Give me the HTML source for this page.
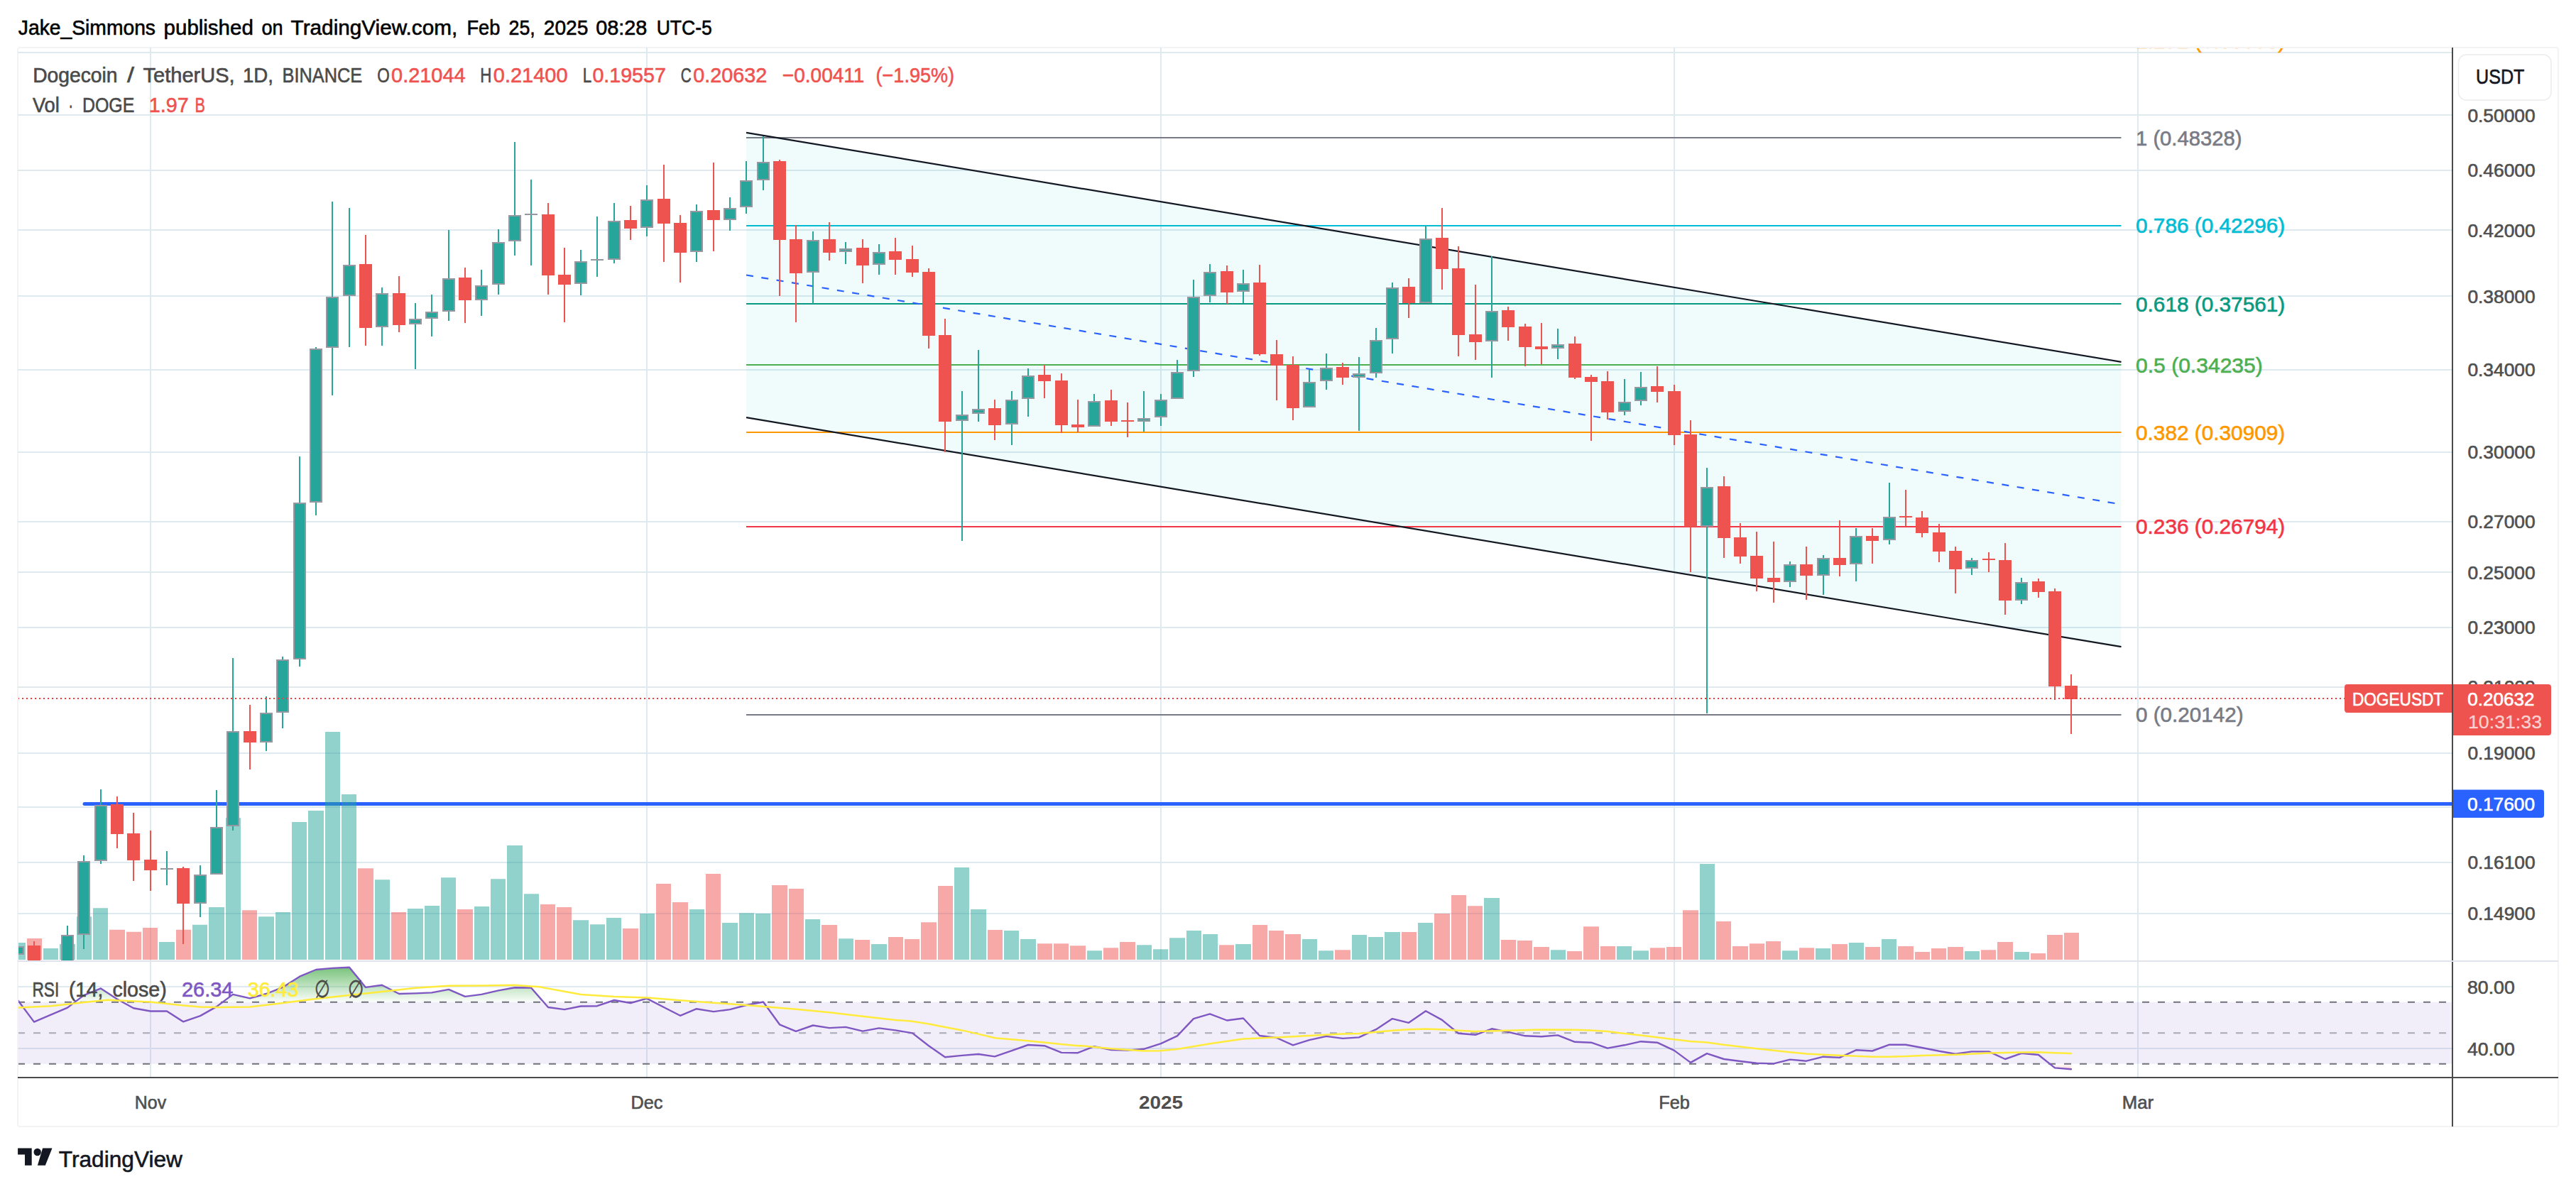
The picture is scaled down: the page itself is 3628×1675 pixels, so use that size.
<!DOCTYPE html>
<html><head><meta charset="utf-8"><title>DOGEUSDT chart</title>
<style>html,body{margin:0;padding:0;background:#fff}svg{display:block}text{font-family:"Liberation Sans", sans-serif;white-space:pre}</style>
</head><body>
<svg width="3628" height="1675" viewBox="0 0 3628 1675">
<rect x="0" y="0" width="3628" height="1675" fill="#fff"/>
<rect x="25" y="67" width="3578" height="1520" rx="3" fill="none" stroke="#f3f3f3" stroke-width="2"/>
<defs>
<clipPath id="main"><rect x="26" y="68" width="3428" height="1286"/></clipPath>
<clipPath id="rsi"><rect x="26" y="1354" width="3428" height="164"/></clipPath>
<clipPath id="rsitop"><rect x="26" y="1354" width="3428" height="57.75"/></clipPath>
<clipPath id="rsibot"><rect x="26" y="1498.75" width="3428" height="19.25"/></clipPath>
<linearGradient id="gg" gradientUnits="userSpaceOnUse" x1="0" y1="1358" x2="0" y2="1411.75"><stop offset="0" stop-color="#4caf50" stop-opacity="0.82"/><stop offset="1" stop-color="#4caf50" stop-opacity="0.02"/></linearGradient>
<linearGradient id="rg" gradientUnits="userSpaceOnUse" x1="0" y1="1498.75" x2="0" y2="1518"><stop offset="0" stop-color="#ff5252" stop-opacity="0.0"/><stop offset="1" stop-color="#ff5252" stop-opacity="0.6"/></linearGradient>
</defs>
<path d="M25 74H3454 M25 162H3454 M25 240H3454 M25 324H3454 M25 417H3454 M25 521H3454 M25 637H3454 M25 735H3454 M25 806H3454 M25 884H3454 M25 968H3454 M25 1061H3454 M25 1137H3454 M25 1215H3454 M25 1287H3454 M25 1390H3454 M25 1477H3454 M212 67V1518 M911 67V1518 M1635 67V1518 M2358 67V1518 M3011 67V1518" stroke="#dee9f0" stroke-width="2" fill="none"/>
<g clip-path="url(#main)">
<polygon points="1051,186.8 2987.5,509.8 2987.5,911.2 1051,588.2" fill="#00bcc8" fill-opacity="0.06"/>
<line x1="1051" y1="194.0" x2="2987.5" y2="194.0" stroke="#787b86" stroke-width="2"/>
<line x1="1051" y1="318.0" x2="2987.5" y2="318.0" stroke="#00bcd4" stroke-width="2"/>
<line x1="1051" y1="428.0" x2="2987.5" y2="428.0" stroke="#089981" stroke-width="2"/>
<line x1="1051" y1="514.0" x2="2987.5" y2="514.0" stroke="#4caf50" stroke-width="2"/>
<line x1="1051" y1="609.0" x2="2987.5" y2="609.0" stroke="#ff9800" stroke-width="2"/>
<line x1="1051" y1="742.0" x2="2987.5" y2="742.0" stroke="#f23645" stroke-width="2"/>
<line x1="1051" y1="1007.0" x2="2987.5" y2="1007.0" stroke="#787b86" stroke-width="2"/>
<line x1="1051" y1="387.5" x2="2987.5" y2="710.5" stroke="#2962ff" stroke-width="2.2" stroke-dasharray="10 11.6"/>
<line x1="1051" y1="186.8" x2="2987.5" y2="509.8" stroke="#131722" stroke-width="2.2"/>
<line x1="1051" y1="588.2" x2="2987.5" y2="911.2" stroke="#131722" stroke-width="2.2"/>
<line x1="119" y1="1132.5" x2="3454" y2="1132.5" stroke="#2962ff" stroke-width="5" stroke-linecap="round"/>
<path d="M14 1327.9H36V1352H14ZM61 1336.1H82V1352H61ZM84 1330.0H106V1352H84ZM108 1291.3H129V1352H108ZM131 1279.2H152V1352H131ZM224 1327.0H246V1352H224ZM271 1302.8H292V1352H271ZM294 1278.0H316V1352H294ZM318 1152.3H339V1352H318ZM364 1291.3H386V1352H364ZM388 1284.9H409V1352H388ZM411 1158.1H432V1352H411ZM434 1142.0H456V1352H434ZM458 1030.9H479V1352H458ZM481 1119.0H502V1352H481ZM528 1239.2H549V1352H528ZM574 1280.1H596V1352H574ZM598 1276.1H619V1352H598ZM621 1236.2H642V1352H621ZM668 1277.1H689V1352H668ZM691 1238.3H712V1352H691ZM714 1191.1H736V1352H714ZM738 1259.2H759V1352H738ZM807 1296.2H829V1352H807ZM831 1302.2H852V1352H831ZM854 1293.1H875V1352H854ZM901 1287.1H922V1352H901ZM971 1281.0H992V1352H971ZM1017 1300.1H1039V1352H1017ZM1041 1286.2H1062V1352H1041ZM1064 1287.1H1085V1352H1064ZM1134 1295.0H1155V1352H1134ZM1181 1322.2H1202V1352H1181ZM1227 1330.1H1249V1352H1227ZM1344 1222.0H1365V1352H1344ZM1367 1281.0H1389V1352H1367ZM1414 1311.0H1435V1352H1414ZM1437 1323.1H1459V1352H1437ZM1531 1339.2H1552V1352H1531ZM1601 1331.3H1622V1352H1601ZM1624 1337.3H1645V1352H1624ZM1647 1321.3H1669V1352H1647ZM1671 1311.0H1692V1352H1671ZM1694 1316.1H1715V1352H1694ZM1740 1330.1H1762V1352H1740ZM1834 1323.1H1855V1352H1834ZM1857 1339.2H1878V1352H1857ZM1904 1317.1H1925V1352H1904ZM1927 1320.1H1948V1352H1927ZM1950 1313.1H1972V1352H1950ZM1997 1300.1H2018V1352H1997ZM2090 1265.0H2112V1352H2090ZM2184 1338.2H2205V1352H2184ZM2277 1333.1H2298V1352H2277ZM2300 1339.2H2322V1352H2300ZM2394 1217.1H2415V1352H2394ZM2510 1339.2H2532V1352H2510ZM2557 1336.1H2578V1352H2557ZM2604 1328.0H2625V1352H2604ZM2650 1323.1H2671V1352H2650ZM2767 1340.1H2788V1352H2767ZM2837 1341.0H2858V1352H2837Z" fill="#26a69a" fill-opacity="0.5"/>
<path d="M38 1321.9H59V1352H38ZM154 1309.8H176V1352H154ZM178 1312.8H199V1352H178ZM201 1307.0H222V1352H201ZM248 1309.8H269V1352H248ZM341 1282.2H362V1352H341ZM504 1223.2H526V1352H504ZM551 1284.9H572V1352H551ZM644 1281.0H666V1352H644ZM761 1274.1H782V1352H761ZM784 1278.0H805V1352H784ZM877 1308.0H899V1352H877ZM924 1245.0H945V1352H924ZM947 1271.0H969V1352H947ZM994 1231.1H1015V1352H994ZM1087 1247.1H1109V1352H1087ZM1111 1252.0H1132V1352H1111ZM1157 1303.1H1179V1352H1157ZM1204 1324.0H1225V1352H1204ZM1251 1320.1H1272V1352H1251ZM1274 1323.1H1295V1352H1274ZM1297 1299.2H1319V1352H1297ZM1321 1248.0H1342V1352H1321ZM1391 1310.1H1412V1352H1391ZM1461 1329.2H1482V1352H1461ZM1484 1329.2H1505V1352H1484ZM1507 1332.2H1529V1352H1507ZM1554 1335.2H1575V1352H1554ZM1577 1327.0H1599V1352H1577ZM1717 1331.3H1738V1352H1717ZM1764 1303.1H1785V1352H1764ZM1787 1311.0H1808V1352H1787ZM1810 1316.1H1832V1352H1810ZM1880 1338.2H1902V1352H1880ZM1974 1313.1H1995V1352H1974ZM2020 1287.1H2042V1352H2020ZM2044 1261.0H2065V1352H2044ZM2067 1276.2H2088V1352H2067ZM2114 1324.0H2135V1352H2114ZM2137 1324.9H2158V1352H2137ZM2160 1334.0H2182V1352H2160ZM2207 1340.1H2228V1352H2207ZM2230 1305.2H2252V1352H2230ZM2254 1333.1H2275V1352H2254ZM2324 1335.2H2345V1352H2324ZM2347 1334.0H2368V1352H2347ZM2370 1282.2H2392V1352H2370ZM2417 1298.0H2438V1352H2417ZM2440 1333.1H2462V1352H2440ZM2464 1329.2H2485V1352H2464ZM2487 1326.1H2508V1352H2487ZM2534 1335.2H2555V1352H2534ZM2580 1330.1H2602V1352H2580ZM2627 1334.0H2648V1352H2627ZM2673 1333.1H2695V1352H2673ZM2697 1341.0H2718V1352H2697ZM2720 1336.1H2741V1352H2720ZM2743 1334.0H2765V1352H2743ZM2790 1338.2H2811V1352H2790ZM2813 1327.0H2835V1352H2813ZM2860 1343.1H2881V1352H2860ZM2883 1317.1H2905V1352H2883ZM2907 1314.0H2928V1352H2907Z" fill="#ef5350" fill-opacity="0.5"/>
<path d="M25 1319V1350M72 1380V1420M95 1304V1420M118 1205V1337M142 1112V1217M235 1199V1247M282 1219V1292M305 1113V1232M328 927V1170M375 981V1058M398 925V1026M422 643V939M445 489V726M468 284V557M492 293V489M538 405V487M585 427V520M608 415V474M632 324V452M678 380V445M702 323V415M725 200V360M748 253V374M818 352V416M841 305V390M865 286V371M911 261V333M981 288V369M1028 278V325M1051 227V301M1075 192V268M1145 326V428M1191 341V372M1238 344V387M1355 551V762M1378 493V594M1425 551V627M1448 519V587M1541 555V601M1611 551V608M1635 555V600M1658 507V562M1681 394V531M1704 372V426M1751 380V427M1844 521V574M1868 498V549M1914 503V607M1938 462V532M1961 398V498M2008 318V427M2101 361V532M2194 463V506M2288 534V585M2311 524V571M2404 659V1005M2521 791V827M2568 782V838M2614 744V819M2661 680V767M2777 786V810M2847 814V851" stroke="#26a69a" stroke-width="2" fill="none"/>
<path d="M48 1326V1420M165 1122V1195M188 1145V1241M212 1170V1255M258 1221V1330M352 993V1084M515 331V487M562 389V468M655 377V455M772 286V415M795 349V454M888 290V338M935 232V369M958 303V398M1005 229V354M1098 225V417M1121 317V454M1168 313V367M1215 337V399M1261 335V387M1285 346V390M1308 378V491M1331 449V637M1401 563V620M1471 514V561M1495 526V610M1518 563V609M1565 549V600M1588 567V616M1728 374V428M1774 373V501M1798 479V564M1821 502V592M1891 511V542M1984 392V448M2031 293V408M2054 347V502M2078 401V507M2124 432V480M2148 456V516M2171 455V513M2218 474V534M2241 528V621M2264 523V591M2334 516V567M2358 542V627M2381 592V806M2428 671V786M2451 737V794M2474 749V833M2498 763V849M2544 770V845M2591 733V812M2637 744V794M2684 690V742M2707 720V757M2731 738V792M2754 770V836M2801 778V806M2824 765V866M2871 815V842M2894 829V986M2917 950V1034" stroke="#ef5350" stroke-width="2" fill="none"/>
<g fill="#26a69a" stroke="#9598a1" stroke-width="2"><rect x="17" y="1334" width="16" height="10"/><rect x="64" y="1391" width="16" height="8"/><rect x="87" y="1318" width="16" height="81"/><rect x="110" y="1214" width="16" height="102"/><rect x="134" y="1135" width="16" height="77"/><rect x="226" y="1223" width="18" height="2" fill="#9598a1" stroke="none"/><rect x="274" y="1233" width="16" height="39"/><rect x="297" y="1166" width="16" height="65"/><rect x="320" y="1031" width="16" height="132"/><rect x="367" y="1005" width="16" height="40"/><rect x="390" y="930" width="16" height="73"/><rect x="414" y="709" width="16" height="219"/><rect x="437" y="492" width="16" height="215"/><rect x="460" y="419" width="16" height="70"/><rect x="484" y="374" width="16" height="42"/><rect x="530" y="414" width="16" height="46"/><rect x="577" y="450" width="16" height="6"/><rect x="600" y="440" width="16" height="8"/><rect x="624" y="393" width="16" height="45"/><rect x="670" y="403" width="16" height="19"/><rect x="694" y="342" width="16" height="58"/><rect x="717" y="304" width="16" height="35"/><rect x="739" y="301" width="18" height="2" fill="#9598a1" stroke="none"/><rect x="810" y="369" width="16" height="30"/><rect x="832" y="365" width="18" height="2" fill="#9598a1" stroke="none"/><rect x="857" y="312" width="16" height="53"/><rect x="903" y="282" width="16" height="38"/><rect x="973" y="298" width="16" height="56"/><rect x="1020" y="294" width="16" height="15"/><rect x="1043" y="255" width="16" height="36"/><rect x="1067" y="229" width="16" height="24"/><rect x="1137" y="339" width="16" height="44"/><rect x="1183" y="351" width="16" height="3"/><rect x="1230" y="356" width="16" height="16"/><rect x="1347" y="585" width="16" height="7"/><rect x="1370" y="577" width="16" height="5"/><rect x="1417" y="564" width="16" height="33"/><rect x="1440" y="530" width="16" height="31"/><rect x="1533" y="566" width="16" height="34"/><rect x="1603" y="590" width="16" height="3"/><rect x="1627" y="564" width="16" height="23"/><rect x="1650" y="525" width="16" height="36"/><rect x="1673" y="419" width="16" height="103"/><rect x="1696" y="384" width="16" height="32"/><rect x="1743" y="400" width="16" height="10"/><rect x="1836" y="539" width="16" height="34"/><rect x="1860" y="519" width="16" height="17"/><rect x="1906" y="527" width="16" height="4"/><rect x="1930" y="480" width="16" height="45"/><rect x="1953" y="406" width="16" height="71"/><rect x="2000" y="337" width="16" height="89"/><rect x="2093" y="439" width="16" height="41"/><rect x="2186" y="486" width="16" height="4"/><rect x="2280" y="567" width="16" height="12"/><rect x="2303" y="546" width="16" height="18"/><rect x="2396" y="687" width="16" height="54"/><rect x="2513" y="796" width="16" height="23"/><rect x="2560" y="787" width="16" height="23"/><rect x="2606" y="756" width="16" height="38"/><rect x="2653" y="729" width="16" height="31"/><rect x="2769" y="790" width="16" height="10"/><rect x="2839" y="821" width="16" height="24"/></g>
<path d="M39 1332H57V1400H39ZM156 1133H174V1175H156ZM179 1174H197V1212H179ZM203 1211H221V1226H203ZM249 1223H267V1273H249ZM343 1030H361V1046H343ZM506 372H524V462H506ZM553 413H571V458H553ZM646 391H664V423H646ZM763 302H781V388H763ZM786 387H804V401H786ZM879 310H897V322H879ZM926 280H944V315H926ZM949 314H967V356H949ZM996 296H1014V310H996ZM1089 227H1107V338H1089ZM1112 337H1130V385H1112ZM1159 337H1177V356H1159ZM1206 349H1224V374H1206ZM1252 354H1270V366H1252ZM1276 365H1294V384H1276ZM1299 383H1317V473H1299ZM1322 472H1340V594H1322ZM1392 575H1410V599H1392ZM1462 528H1480V537H1462ZM1486 536H1504V599H1486ZM1509 598H1527V602H1509ZM1556 564H1574V594H1556ZM1579 592H1597V594H1579ZM1719 382H1737V412H1719ZM1765 398H1783V499H1765ZM1789 499H1807V515H1789ZM1812 514H1830V575H1812ZM1882 517H1900V532H1882ZM1975 404H1993V427H1975ZM2022 335H2040V379H2022ZM2045 378H2063V472H2045ZM2069 471H2087V482H2069ZM2115 437H2133V461H2115ZM2139 460H2157V489H2139ZM2162 488H2180V492H2162ZM2209 484H2227V532H2209ZM2232 531H2250V538H2232ZM2255 537H2273V581H2255ZM2325 544H2343V552H2325ZM2349 551H2367V613H2349ZM2372 612H2390V742H2372ZM2419 685H2437V758H2419ZM2442 757H2460V784H2442ZM2465 783H2483V815H2465ZM2489 814H2507V820H2489ZM2535 795H2553V811H2535ZM2582 786H2600V796H2582ZM2628 755H2646V762H2628ZM2675 727H2693V729H2675ZM2698 729H2716V751H2698ZM2722 750H2740V777H2722ZM2745 776H2763V802H2745ZM2792 787H2810V789H2792ZM2815 789H2833V846H2815ZM2862 819H2880V834H2862ZM2885 833H2903V967H2885ZM2908 966H2926V985H2908Z" fill="#ef5350"/>
<line x1="25" y1="984" x2="3454" y2="984" stroke="#ef3a3a" stroke-width="2" stroke-dasharray="2 4"/>
<text x="3008.0" y="204.5" font-size="29" fill="#787b86" stroke="#787b86" stroke-width="0.6" textLength="149.5" lengthAdjust="spacingAndGlyphs" >1 (0.48328)</text>
<text x="3008.0" y="328.3" font-size="29" fill="#00bcd4" stroke="#00bcd4" stroke-width="0.6" textLength="210.3" lengthAdjust="spacingAndGlyphs" >0.786 (0.42296)</text>
<text x="3008.0" y="438.6" font-size="29" fill="#089981" stroke="#089981" stroke-width="0.6" textLength="210.3" lengthAdjust="spacingAndGlyphs" >0.618 (0.37561)</text>
<text x="3008.0" y="524.7" font-size="29" fill="#4caf50" stroke="#4caf50" stroke-width="0.6" textLength="178.8" lengthAdjust="spacingAndGlyphs" >0.5 (0.34235)</text>
<text x="3008.0" y="619.6" font-size="29" fill="#ff9800" stroke="#ff9800" stroke-width="0.6" textLength="210.3" lengthAdjust="spacingAndGlyphs" >0.382 (0.30909)</text>
<text x="3008.0" y="752.2" font-size="29" fill="#f23645" stroke="#f23645" stroke-width="0.6" textLength="210.3" lengthAdjust="spacingAndGlyphs" >0.236 (0.26794)</text>
<text x="3008.0" y="1017.2" font-size="29" fill="#787b86" stroke="#787b86" stroke-width="0.6" textLength="151.5" lengthAdjust="spacingAndGlyphs" >0 (0.20142)</text>
</g>
<g clip-path="url(#main)">
<text x="3008.0" y="67.8" font-size="29" fill="#ff9800" stroke="#ff9800" stroke-width="0.6" textLength="210.3" lengthAdjust="spacingAndGlyphs" >1.272 (0.55995)</text>
</g>
<line x1="25" y1="1354" x2="3603" y2="1354" stroke="#e0e3eb" stroke-width="2"/>
<g clip-path="url(#rsi)">
<rect x="25" y="1411.8" width="3429" height="87.0" fill="#7e57c2" fill-opacity="0.1"/>
<polygon clip-path="url(#rsitop)" points="25.0,1411.8 25.0,1409.0 48.0,1439.6 72.0,1429.3 95.0,1419.6 118.0,1402.1 142.0,1392.4 165.0,1407.5 188.0,1420.2 212.0,1424.5 235.0,1424.5 258.0,1439.3 282.0,1431.1 305.0,1418.1 328.0,1400.9 352.0,1406.3 375.0,1400.0 398.0,1390.9 422.0,1375.7 445.0,1366.0 468.0,1363.9 492.0,1362.7 515.0,1390.9 538.0,1387.8 562.0,1400.0 585.0,1399.4 608.0,1398.4 632.0,1393.9 655.0,1403.9 678.0,1400.9 702.0,1395.4 725.0,1391.2 748.0,1391.5 772.0,1419.0 795.0,1422.1 818.0,1417.5 841.0,1417.2 865.0,1409.0 888.0,1413.0 911.0,1406.6 935.0,1419.0 958.0,1430.8 981.0,1421.2 1005.0,1425.1 1028.0,1422.1 1051.0,1416.0 1075.0,1411.5 1098.0,1443.3 1121.0,1452.9 1145.0,1444.5 1168.0,1448.1 1191.0,1446.9 1215.0,1452.6 1238.0,1448.4 1261.0,1451.4 1285.0,1455.4 1308.0,1473.2 1331.0,1489.3 1355.0,1486.9 1378.0,1485.0 1401.0,1488.4 1425.0,1480.2 1448.0,1472.0 1471.0,1473.2 1495.0,1482.9 1518.0,1483.2 1541.0,1474.1 1565.0,1479.0 1588.0,1479.6 1611.0,1477.8 1635.0,1470.2 1658.0,1459.3 1681.0,1435.1 1704.0,1428.4 1728.0,1437.5 1751.0,1434.5 1774.0,1459.0 1798.0,1462.0 1821.0,1472.3 1844.0,1465.1 1868.0,1459.9 1891.0,1462.9 1914.0,1461.4 1938.0,1450.2 1961.0,1435.1 1984.0,1440.8 2008.0,1424.2 2031.0,1436.9 2054.0,1455.7 2078.0,1457.8 2101.0,1449.3 2124.0,1453.9 2148.0,1459.3 2171.0,1460.2 2194.0,1458.4 2218.0,1467.8 2241.0,1468.7 2264.0,1476.6 2288.0,1472.3 2311.0,1467.2 2334.0,1468.7 2358.0,1479.9 2381.0,1496.9 2404.0,1484.1 2428.0,1492.0 2451.0,1495.0 2474.0,1497.8 2498.0,1498.4 2521.0,1492.6 2544.0,1494.7 2568.0,1488.7 2591.0,1489.9 2614.0,1479.3 2637.0,1480.5 2661.0,1471.7 2684.0,1471.7 2707.0,1476.0 2731.0,1480.8 2754.0,1484.7 2777.0,1481.4 2801.0,1481.4 2824.0,1492.0 2847.0,1483.8 2871.0,1486.0 2894.0,1504.4 2917.0,1506.2 2917.0,1411.8" fill="url(#gg)"/>
<polygon clip-path="url(#rsibot)" points="25.0,1498.8 25.0,1409.0 48.0,1439.6 72.0,1429.3 95.0,1419.6 118.0,1402.1 142.0,1392.4 165.0,1407.5 188.0,1420.2 212.0,1424.5 235.0,1424.5 258.0,1439.3 282.0,1431.1 305.0,1418.1 328.0,1400.9 352.0,1406.3 375.0,1400.0 398.0,1390.9 422.0,1375.7 445.0,1366.0 468.0,1363.9 492.0,1362.7 515.0,1390.9 538.0,1387.8 562.0,1400.0 585.0,1399.4 608.0,1398.4 632.0,1393.9 655.0,1403.9 678.0,1400.9 702.0,1395.4 725.0,1391.2 748.0,1391.5 772.0,1419.0 795.0,1422.1 818.0,1417.5 841.0,1417.2 865.0,1409.0 888.0,1413.0 911.0,1406.6 935.0,1419.0 958.0,1430.8 981.0,1421.2 1005.0,1425.1 1028.0,1422.1 1051.0,1416.0 1075.0,1411.5 1098.0,1443.3 1121.0,1452.9 1145.0,1444.5 1168.0,1448.1 1191.0,1446.9 1215.0,1452.6 1238.0,1448.4 1261.0,1451.4 1285.0,1455.4 1308.0,1473.2 1331.0,1489.3 1355.0,1486.9 1378.0,1485.0 1401.0,1488.4 1425.0,1480.2 1448.0,1472.0 1471.0,1473.2 1495.0,1482.9 1518.0,1483.2 1541.0,1474.1 1565.0,1479.0 1588.0,1479.6 1611.0,1477.8 1635.0,1470.2 1658.0,1459.3 1681.0,1435.1 1704.0,1428.4 1728.0,1437.5 1751.0,1434.5 1774.0,1459.0 1798.0,1462.0 1821.0,1472.3 1844.0,1465.1 1868.0,1459.9 1891.0,1462.9 1914.0,1461.4 1938.0,1450.2 1961.0,1435.1 1984.0,1440.8 2008.0,1424.2 2031.0,1436.9 2054.0,1455.7 2078.0,1457.8 2101.0,1449.3 2124.0,1453.9 2148.0,1459.3 2171.0,1460.2 2194.0,1458.4 2218.0,1467.8 2241.0,1468.7 2264.0,1476.6 2288.0,1472.3 2311.0,1467.2 2334.0,1468.7 2358.0,1479.9 2381.0,1496.9 2404.0,1484.1 2428.0,1492.0 2451.0,1495.0 2474.0,1497.8 2498.0,1498.4 2521.0,1492.6 2544.0,1494.7 2568.0,1488.7 2591.0,1489.9 2614.0,1479.3 2637.0,1480.5 2661.0,1471.7 2684.0,1471.7 2707.0,1476.0 2731.0,1480.8 2754.0,1484.7 2777.0,1481.4 2801.0,1481.4 2824.0,1492.0 2847.0,1483.8 2871.0,1486.0 2894.0,1504.4 2917.0,1506.2 2917.0,1498.8" fill="url(#rg)"/>
<line x1="25" y1="1411.8" x2="3454" y2="1411.8" stroke="#6f727c" stroke-width="2" stroke-dasharray="10 12"/>
<line x1="25" y1="1455.2" x2="3454" y2="1455.2" stroke="#a8aab3" stroke-width="2" stroke-dasharray="10 12"/>
<line x1="25" y1="1498.8" x2="3454" y2="1498.8" stroke="#6f727c" stroke-width="2" stroke-dasharray="10 12"/>
<polyline points="25.0,1409.0 48.0,1439.6 72.0,1429.3 95.0,1419.6 118.0,1402.1 142.0,1392.4 165.0,1407.5 188.0,1420.2 212.0,1424.5 235.0,1424.5 258.0,1439.3 282.0,1431.1 305.0,1418.1 328.0,1400.9 352.0,1406.3 375.0,1400.0 398.0,1390.9 422.0,1375.7 445.0,1366.0 468.0,1363.9 492.0,1362.7 515.0,1390.9 538.0,1387.8 562.0,1400.0 585.0,1399.4 608.0,1398.4 632.0,1393.9 655.0,1403.9 678.0,1400.9 702.0,1395.4 725.0,1391.2 748.0,1391.5 772.0,1419.0 795.0,1422.1 818.0,1417.5 841.0,1417.2 865.0,1409.0 888.0,1413.0 911.0,1406.6 935.0,1419.0 958.0,1430.8 981.0,1421.2 1005.0,1425.1 1028.0,1422.1 1051.0,1416.0 1075.0,1411.5 1098.0,1443.3 1121.0,1452.9 1145.0,1444.5 1168.0,1448.1 1191.0,1446.9 1215.0,1452.6 1238.0,1448.4 1261.0,1451.4 1285.0,1455.4 1308.0,1473.2 1331.0,1489.3 1355.0,1486.9 1378.0,1485.0 1401.0,1488.4 1425.0,1480.2 1448.0,1472.0 1471.0,1473.2 1495.0,1482.9 1518.0,1483.2 1541.0,1474.1 1565.0,1479.0 1588.0,1479.6 1611.0,1477.8 1635.0,1470.2 1658.0,1459.3 1681.0,1435.1 1704.0,1428.4 1728.0,1437.5 1751.0,1434.5 1774.0,1459.0 1798.0,1462.0 1821.0,1472.3 1844.0,1465.1 1868.0,1459.9 1891.0,1462.9 1914.0,1461.4 1938.0,1450.2 1961.0,1435.1 1984.0,1440.8 2008.0,1424.2 2031.0,1436.9 2054.0,1455.7 2078.0,1457.8 2101.0,1449.3 2124.0,1453.9 2148.0,1459.3 2171.0,1460.2 2194.0,1458.4 2218.0,1467.8 2241.0,1468.7 2264.0,1476.6 2288.0,1472.3 2311.0,1467.2 2334.0,1468.7 2358.0,1479.9 2381.0,1496.9 2404.0,1484.1 2428.0,1492.0 2451.0,1495.0 2474.0,1497.8 2498.0,1498.4 2521.0,1492.6 2544.0,1494.7 2568.0,1488.7 2591.0,1489.9 2614.0,1479.3 2637.0,1480.5 2661.0,1471.7 2684.0,1471.7 2707.0,1476.0 2731.0,1480.8 2754.0,1484.7 2777.0,1481.4 2801.0,1481.4 2824.0,1492.0 2847.0,1483.8 2871.0,1486.0 2894.0,1504.4 2917.0,1506.2" fill="none" stroke="#7e57c2" stroke-width="2.4" stroke-linejoin="round" stroke-linecap="round"/>
<polyline points="25.4,1419.6 72.1,1417.2 118.7,1412.1 151.4,1408.7 212.0,1411.5 258.6,1416.6 281.9,1418.4 305.2,1419.0 351.8,1418.4 398.5,1413.0 445.1,1406.9 491.7,1402.1 538.4,1396.9 585.0,1391.8 631.6,1388.8 678.3,1388.5 724.9,1387.8 748.2,1389.4 760.0,1390.3 818.4,1400.9 865.1,1403.9 911.7,1405.4 958.3,1409.3 1005.0,1412.7 1051.6,1416.0 1074.9,1418.1 1121.5,1421.8 1168.2,1426.3 1214.8,1431.8 1261.4,1436.9 1284.7,1438.7 1308.1,1442.4 1354.7,1451.4 1378.0,1456.6 1401.3,1462.3 1447.9,1466.3 1494.6,1471.1 1517.9,1473.2 1520.0,1472.9 1564.5,1477.2 1611.1,1480.5 1634.5,1480.2 1657.8,1478.1 1704.4,1470.2 1751.0,1463.5 1797.7,1461.4 1844.3,1459.0 1890.9,1456.6 1914.2,1456.0 1960.9,1451.7 1984.2,1450.2 2007.5,1449.6 2030.8,1450.2 2054.1,1451.7 2077.4,1452.9 2124.1,1451.7 2170.7,1450.5 2217.3,1450.8 2240.6,1451.4 2264.0,1452.9 2280.0,1455.1 2310.9,1458.4 2357.5,1464.2 2380.8,1466.9 2404.1,1468.4 2427.5,1471.7 2474.1,1477.2 2520.7,1482.3 2544.0,1484.4 2567.3,1485.7 2614.0,1487.8 2637.3,1488.7 2660.6,1488.7 2683.9,1488.1 2707.2,1486.9 2753.9,1485.7 2800.5,1483.5 2823.8,1482.9 2847.1,1482.6 2870.4,1482.3 2893.8,1483.2 2917.1,1484.1" fill="none" stroke="#ffeb3b" stroke-width="2.5" stroke-linejoin="round" stroke-linecap="round"/>
</g>
<line x1="3454" y1="67" x2="3454" y2="1587" stroke="#4a4a4a" stroke-width="2"/>
<line x1="25" y1="1518" x2="3603" y2="1518" stroke="#4a4a4a" stroke-width="2"/>
<text x="3475.4" y="171.8" font-size="25" fill="#4f4f4f" stroke="#4f4f4f" stroke-width="0.6" textLength="95.2" lengthAdjust="spacingAndGlyphs" >0.50000</text>
<text x="3475.4" y="249.3" font-size="25" fill="#4f4f4f" stroke="#4f4f4f" stroke-width="0.6" textLength="95.2" lengthAdjust="spacingAndGlyphs" >0.46000</text>
<text x="3475.4" y="333.7" font-size="25" fill="#4f4f4f" stroke="#4f4f4f" stroke-width="0.6" textLength="95.2" lengthAdjust="spacingAndGlyphs" >0.42000</text>
<text x="3475.4" y="426.7" font-size="25" fill="#4f4f4f" stroke="#4f4f4f" stroke-width="0.6" textLength="95.2" lengthAdjust="spacingAndGlyphs" >0.38000</text>
<text x="3475.4" y="529.9" font-size="25" fill="#4f4f4f" stroke="#4f4f4f" stroke-width="0.6" textLength="95.2" lengthAdjust="spacingAndGlyphs" >0.34000</text>
<text x="3475.4" y="646.2" font-size="25" fill="#4f4f4f" stroke="#4f4f4f" stroke-width="0.6" textLength="95.2" lengthAdjust="spacingAndGlyphs" >0.30000</text>
<text x="3475.4" y="744.0" font-size="25" fill="#4f4f4f" stroke="#4f4f4f" stroke-width="0.6" textLength="95.2" lengthAdjust="spacingAndGlyphs" >0.27000</text>
<text x="3475.4" y="815.5" font-size="25" fill="#4f4f4f" stroke="#4f4f4f" stroke-width="0.6" textLength="95.2" lengthAdjust="spacingAndGlyphs" >0.25000</text>
<text x="3475.4" y="892.9" font-size="25" fill="#4f4f4f" stroke="#4f4f4f" stroke-width="0.6" textLength="95.2" lengthAdjust="spacingAndGlyphs" >0.23000</text>
<text x="3475.4" y="1070.3" font-size="25" fill="#4f4f4f" stroke="#4f4f4f" stroke-width="0.6" textLength="95.2" lengthAdjust="spacingAndGlyphs" >0.19000</text>
<text x="3475.4" y="1146.7" font-size="25" fill="#4f4f4f" stroke="#4f4f4f" stroke-width="0.6" textLength="95.2" lengthAdjust="spacingAndGlyphs" >0.17500</text>
<text x="3475.4" y="1224.1" font-size="25" fill="#4f4f4f" stroke="#4f4f4f" stroke-width="0.6" textLength="95.2" lengthAdjust="spacingAndGlyphs" >0.16100</text>
<text x="3475.4" y="1296.0" font-size="25" fill="#4f4f4f" stroke="#4f4f4f" stroke-width="0.6" textLength="95.2" lengthAdjust="spacingAndGlyphs" >0.14900</text>
<text x="3475.4" y="977.4" font-size="25" fill="#4f4f4f" stroke="#4f4f4f" stroke-width="0.6" textLength="95.2" lengthAdjust="spacingAndGlyphs" >0.21000</text>
<text x="3475.0" y="1399.5" font-size="25" fill="#4f4f4f" stroke="#4f4f4f" stroke-width="0.6" textLength="66.7" lengthAdjust="spacingAndGlyphs" >80.00</text>
<text x="3475.0" y="1486.5" font-size="25" fill="#4f4f4f" stroke="#4f4f4f" stroke-width="0.6" textLength="66.7" lengthAdjust="spacingAndGlyphs" >40.00</text>
<text x="212.0" y="1562.0" font-size="25" fill="#4f4f4f" stroke="#4f4f4f" stroke-width="0.6" text-anchor="middle" textLength="44.3" lengthAdjust="spacingAndGlyphs" >Nov</text>
<text x="911.0" y="1562.0" font-size="25" fill="#4f4f4f" stroke="#4f4f4f" stroke-width="0.6" text-anchor="middle" textLength="45.0" lengthAdjust="spacingAndGlyphs" >Dec</text>
<text x="1635.0" y="1562.0" font-size="25" fill="#4f4f4f" stroke="#4f4f4f" stroke-width="0" text-anchor="middle" font-weight="bold" textLength="62.0" lengthAdjust="spacingAndGlyphs" >2025</text>
<text x="2358.0" y="1562.0" font-size="25" fill="#4f4f4f" stroke="#4f4f4f" stroke-width="0.6" text-anchor="middle" textLength="43.6" lengthAdjust="spacingAndGlyphs" >Feb</text>
<text x="3011.0" y="1562.0" font-size="25" fill="#4f4f4f" stroke="#4f4f4f" stroke-width="0.6" text-anchor="middle" textLength="44.3" lengthAdjust="spacingAndGlyphs" >Mar</text>
<rect x="3462.5" y="77" width="130.5" height="64" rx="11" fill="#fff" stroke="#ececec" stroke-width="1.5"/>
<text x="3487.0" y="117.6" font-size="29" fill="#131722" stroke="#131722" stroke-width="0.6" textLength="68.4" lengthAdjust="spacingAndGlyphs" >USDT</text>
<path d="M3306 964H3454V1004H3306a4 4 0 0 1 -4 -4V968a4 4 0 0 1 4 -4Z" fill="#ef5350"/>
<path d="M3454 964H3589a4 4 0 0 1 4 4V1032a4 4 0 0 1 -4 4H3454Z" fill="#ef5350"/>
<text x="3312.9" y="993.8" font-size="26" fill="#fff" stroke="#fff" stroke-width="0.6" textLength="128.3" lengthAdjust="spacingAndGlyphs" >DOGEUSDT</text>
<text x="3475.3" y="994.0" font-size="25" fill="#fff" stroke="#fff" stroke-width="0.6" textLength="94.2" lengthAdjust="spacingAndGlyphs" >0.20632</text>
<text x="3476.0" y="1025.8" font-size="25" fill="#fff" stroke="#fff" stroke-width="0.6" textLength="104.0" lengthAdjust="spacingAndGlyphs" fill-opacity="0.72" stroke-opacity="0.3">10:31:33</text>
<path d="M3454 1112.5H3579a4 4 0 0 1 4 4V1148a4 4 0 0 1 -4 4H3454Z" fill="#2962ff"/>
<text x="3475.0" y="1142.0" font-size="25" fill="#fff" stroke="#fff" stroke-width="0.6" textLength="95.0" lengthAdjust="spacingAndGlyphs" >0.17600</text>
<line x1="3454" y1="67" x2="3454" y2="1587" stroke="#4a4a4a" stroke-width="2"/>
<line x1="3453" y1="1354" x2="3603" y2="1354" stroke="#e0e3eb" stroke-width="2"/>
<text x="46.2" y="115.6" font-size="29" fill="#4a4a4a" stroke="#4a4a4a" stroke-width="0.6" textLength="119.4" lengthAdjust="spacingAndGlyphs" >Dogecoin</text>
<text x="179.0" y="115.6" font-size="29" fill="#4a4a4a" stroke="#4a4a4a" stroke-width="0.6" textLength="10.0" lengthAdjust="spacingAndGlyphs" >/</text>
<text x="201.5" y="115.6" font-size="29" fill="#4a4a4a" stroke="#4a4a4a" stroke-width="0.6" textLength="129.1" lengthAdjust="spacingAndGlyphs" >TetherUS,</text>
<text x="342.0" y="115.6" font-size="29" fill="#4a4a4a" stroke="#4a4a4a" stroke-width="0.6" textLength="43.0" lengthAdjust="spacingAndGlyphs" >1D,</text>
<text x="397.5" y="115.6" font-size="29" fill="#4a4a4a" stroke="#4a4a4a" stroke-width="0.6" textLength="112.7" lengthAdjust="spacingAndGlyphs" >BINANCE</text>
<text x="531.2" y="115.6" font-size="29" fill="#4a4a4a" stroke="#4a4a4a" stroke-width="0.6" textLength="17.5" lengthAdjust="spacingAndGlyphs" >O</text>
<text x="676.3" y="115.6" font-size="29" fill="#4a4a4a" stroke="#4a4a4a" stroke-width="0.6" textLength="16.1" lengthAdjust="spacingAndGlyphs" >H</text>
<text x="820.7" y="115.6" font-size="29" fill="#4a4a4a" stroke="#4a4a4a" stroke-width="0.6" textLength="12.5" lengthAdjust="spacingAndGlyphs" >L</text>
<text x="958.8" y="115.6" font-size="29" fill="#4a4a4a" stroke="#4a4a4a" stroke-width="0.6" textLength="15.0" lengthAdjust="spacingAndGlyphs" >C</text>
<text x="551.1" y="115.6" font-size="29" fill="#ef5350" stroke="#ef5350" stroke-width="0.6" textLength="104.5" lengthAdjust="spacingAndGlyphs" >0.21044</text>
<text x="694.8" y="115.6" font-size="29" fill="#ef5350" stroke="#ef5350" stroke-width="0.6" textLength="104.7" lengthAdjust="spacingAndGlyphs" >0.21400</text>
<text x="834.4" y="115.6" font-size="29" fill="#ef5350" stroke="#ef5350" stroke-width="0.6" textLength="103.5" lengthAdjust="spacingAndGlyphs" >0.19557</text>
<text x="976.3" y="115.6" font-size="29" fill="#ef5350" stroke="#ef5350" stroke-width="0.6" textLength="103.8" lengthAdjust="spacingAndGlyphs" >0.20632</text>
<text x="1101.9" y="115.6" font-size="29" fill="#ef5350" stroke="#ef5350" stroke-width="0.6" textLength="115.5" lengthAdjust="spacingAndGlyphs" >−0.00411</text>
<text x="1233.5" y="115.6" font-size="29" fill="#ef5350" stroke="#ef5350" stroke-width="0.6" textLength="110.6" lengthAdjust="spacingAndGlyphs" >(−1.95%)</text>
<text x="45.9" y="158.0" font-size="29" fill="#4a4a4a" stroke="#4a4a4a" stroke-width="0.6" textLength="38.0" lengthAdjust="spacingAndGlyphs" >Vol</text>
<text x="96.5" y="158.0" font-size="29" fill="#4a4a4a" stroke="#4a4a4a" stroke-width="0.6" textLength="6.5" lengthAdjust="spacingAndGlyphs" >·</text>
<text x="115.9" y="158.0" font-size="29" fill="#4a4a4a" stroke="#4a4a4a" stroke-width="0.6" textLength="73.4" lengthAdjust="spacingAndGlyphs" >DOGE</text>
<text x="209.8" y="158.0" font-size="29" fill="#ef5350" stroke="#ef5350" stroke-width="0.6" textLength="55.9" lengthAdjust="spacingAndGlyphs" >1.97</text>
<text x="274.6" y="158.0" font-size="29" fill="#ef5350" stroke="#ef5350" stroke-width="0.6" textLength="14.4" lengthAdjust="spacingAndGlyphs" >B</text>
<text x="45.4" y="1404.0" font-size="29" fill="#4a4a4a" stroke="#4a4a4a" stroke-width="0.6" textLength="37.9" lengthAdjust="spacingAndGlyphs" >RSI</text>
<text x="96.9" y="1404.0" font-size="29" fill="#4a4a4a" stroke="#4a4a4a" stroke-width="0.6" textLength="48.4" lengthAdjust="spacingAndGlyphs" >(14,</text>
<text x="158.4" y="1404.0" font-size="29" fill="#4a4a4a" stroke="#4a4a4a" stroke-width="0.6" textLength="76.3" lengthAdjust="spacingAndGlyphs" >close)</text>
<text x="443.2" y="1405.0" font-size="34" fill="#4a4a4a" stroke="#4a4a4a" stroke-width="0.6" textLength="22.0" lengthAdjust="spacingAndGlyphs" >∅</text>
<text x="490.1" y="1405.0" font-size="34" fill="#4a4a4a" stroke="#4a4a4a" stroke-width="0.6" textLength="22.6" lengthAdjust="spacingAndGlyphs" >∅</text>
<text x="255.9" y="1404.0" font-size="29" fill="#7e57c2" stroke="#7e57c2" stroke-width="0.6" textLength="72.6" lengthAdjust="spacingAndGlyphs" >26.34</text>
<text x="348.8" y="1404.0" font-size="29" fill="#ffeb3b" stroke="#ffeb3b" stroke-width="0.6" textLength="71.5" lengthAdjust="spacingAndGlyphs" >36.43</text>
<text x="25.8" y="48.6" font-size="29.5" fill="#000" stroke="#000" stroke-width="0.6" textLength="193.2" lengthAdjust="spacingAndGlyphs" >Jake_Simmons</text>
<text x="230.6" y="48.6" font-size="29.5" fill="#000" stroke="#000" stroke-width="0.6" textLength="126.2" lengthAdjust="spacingAndGlyphs" >published</text>
<text x="368.4" y="48.6" font-size="29.5" fill="#000" stroke="#000" stroke-width="0.6" textLength="30.1" lengthAdjust="spacingAndGlyphs" >on</text>
<text x="409.6" y="48.6" font-size="29.5" fill="#000" stroke="#000" stroke-width="0.6" textLength="234.7" lengthAdjust="spacingAndGlyphs" >TradingView.com,</text>
<text x="657.5" y="48.6" font-size="29.5" fill="#000" stroke="#000" stroke-width="0.6" textLength="46.9" lengthAdjust="spacingAndGlyphs" >Feb</text>
<text x="716.5" y="48.6" font-size="29.5" fill="#000" stroke="#000" stroke-width="0.6" textLength="37.3" lengthAdjust="spacingAndGlyphs" >25,</text>
<text x="765.8" y="48.6" font-size="29.5" fill="#000" stroke="#000" stroke-width="0.6" textLength="62.6" lengthAdjust="spacingAndGlyphs" >2025</text>
<text x="839.2" y="48.6" font-size="29.5" fill="#000" stroke="#000" stroke-width="0.6" textLength="72.2" lengthAdjust="spacingAndGlyphs" >08:28</text>
<text x="924.7" y="48.6" font-size="29.5" fill="#000" stroke="#000" stroke-width="0.6" textLength="78.2" lengthAdjust="spacingAndGlyphs" >UTC-5</text>
<path d="M25.1 1617.4H44.7V1641.8H35V1626.4H25.1Z" fill="#131722"/>
<circle cx="52.7" cy="1623" r="5.2" fill="#131722"/>
<path d="M60.1 1617.4H73.5L63.8 1641.8H52.9Z" fill="#131722"/>
<text x="82.8" y="1643.7" font-size="32" fill="#131722" stroke="#131722" stroke-width="0.6" textLength="174.1" lengthAdjust="spacingAndGlyphs" >TradingView</text>
</svg>
</body></html>
